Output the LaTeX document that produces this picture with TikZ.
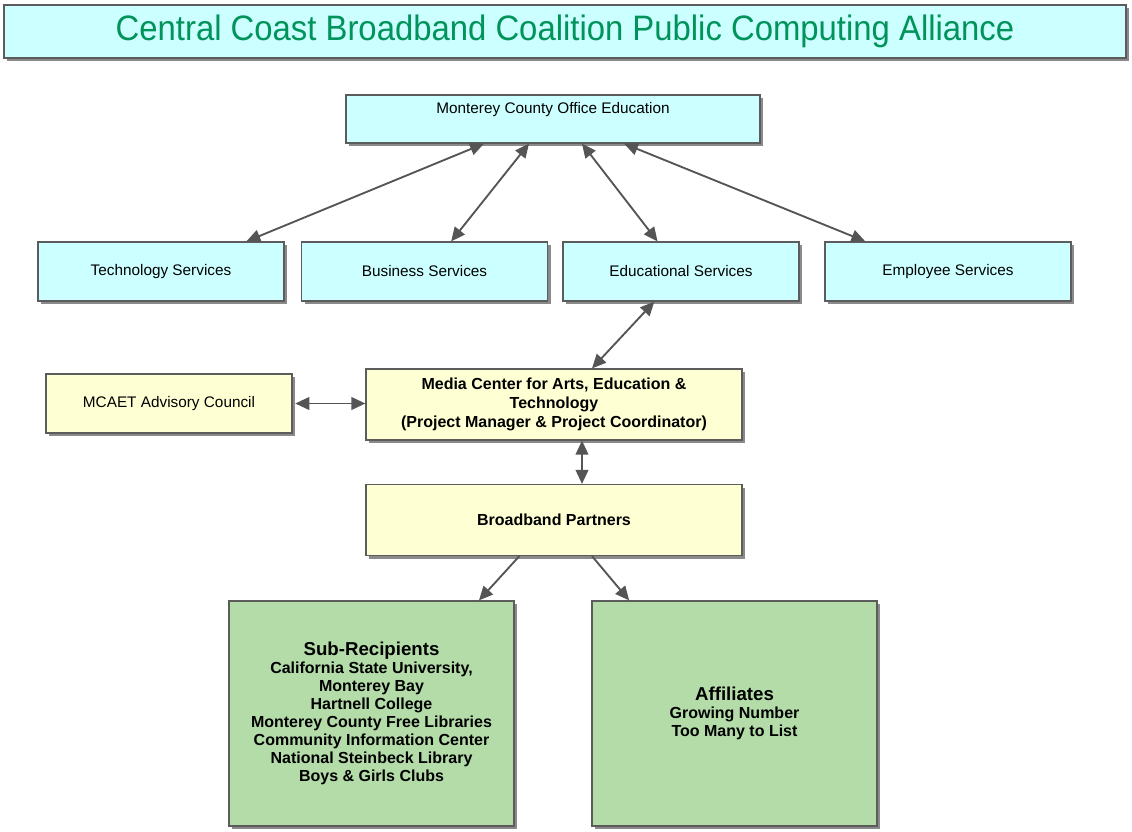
\documentclass[tikz,border=0pt]{standalone}
\usepackage{fontspec}
\setmainfont{Liberation Sans}
\newfontfamily\estrecha[FakeStretch=0.93]{Liberation Sans}
\usepackage{tikz}
\usetikzlibrary{arrows.meta, shadows}
\definecolor{fondoCian}{HTML}{CCFFFF}
\definecolor{fondoCrema}{HTML}{FFFFD4}
\definecolor{fondoVerde}{HTML}{B4DCA9}
\definecolor{bordeCaja}{HTML}{5C5C5C}
\definecolor{sombraCaja}{HTML}{8A8A8A}
\definecolor{verdeTitulo}{HTML}{00935A}
\definecolor{colorFlecha}{HTML}{555555}

\begin{document}
\begin{tikzpicture}[
        x=0.75pt, y=-0.75pt,
        caja/.style={draw=bordeCaja, line width=0.9pt, align=center, inner sep=2pt,
            drop shadow={shadow xshift=2.4pt, shadow yshift=-2.4pt, fill=sombraCaja, opacity=1}},
        cian/.style={caja, fill=fondoCian, minimum width=184.5pt, minimum height=44.25pt,
            font=\fontsize{11.5}{14}\selectfont},
        crema/.style={caja, fill=fondoCrema, minimum width=282pt, minimum height=53.25pt,
            font=\bfseries\fontsize{12}{14}\selectfont},
        verde/.style={caja, fill=fondoVerde, minimum width=213.75pt, minimum height=168.75pt,
            font=\bfseries\fontsize{12}{13.5}\selectfont},
        punta/.tip={Triangle[length=10.5pt, width=9.5pt]},
        rel/.style={punta-punta, colorFlecha, line width=1.4pt},
        ida/.style={-punta, colorFlecha, line width=1.4pt}
    ]
        \useasboundingbox (0,0) rectangle (1132,832);

        % encabezado
        \node[caja, fill=fondoCian, minimum width=841.5pt, minimum height=39.75pt,
            text=verdeTitulo, font=\estrecha\fontsize{26.5}{30}\selectfont] (titulo) at (565,31.5)
            {Central Coast Broadband Coalition Public Computing Alliance};

        % oficina del condado y servicios
        \node[cian, minimum width=310.5pt, minimum height=36pt, inner ysep=7pt,
            text height=7pt, text depth=15pt] (mcoe) at (553,119) {Monterey County Office Education};
        \node[cian] (tech) at (161,271.5) {Technology Services};
        \node[cian] (neg) at (424.5,271.5) {Business Services};
        \node[cian, minimum width=177pt] (edu) at (681,271.5) {Educational Services};
        \node[cian] (emp) at (948,271.5) {Employee Services};

        % centro de medios
        \node[cian, fill=fondoCrema, minimum height=44.25pt] (consejo) at (169,403.5) {MCAET Advisory Council};
        \node[crema] (media) at (554,404.5)
            {Media Center for Arts, Education \&\\Technology\\(Project Manager \& Project Coordinator)};
        \node[crema] (socios) at (554,520) {Broadband Partners};

        % socios
        \node[verde, text depth=3pt] (sub) at (371.5,713.5)
            {{\fontsize{14}{16}\selectfont Sub-Recipients}\\California State University,\\Monterey Bay\\
             Hartnell College\\Monterey County Free Libraries\\Community Information Center\\
             National Steinbeck Library\\Boys \& Girls Clubs};
        \node[verde, text depth=3pt] (afil) at (734.5,713.5)
            {{\fontsize{14}{16}\selectfont Affiliates}\\Growing Number\\Too Many to List};

        % conexiones
        \draw[rel] ([xshift=-51.75pt]mcoe.south) -- ([xshift=64pt]tech.north);
        \draw[rel] ([xshift=-18pt]mcoe.south) -- ([xshift=20pt]neg.north);
        \draw[rel] ([xshift=21.75pt]mcoe.south) -- ([xshift=-17.6pt]edu.north);
        \draw[rel] ([xshift=53.25pt]mcoe.south) -- ([xshift=-62pt]emp.north);
        \draw[rel] ([xshift=-20pt]edu.south) -- ([xshift=28.5pt]media.north);
        \draw[rel] ([xshift=2pt]consejo.east) -- (consejo.east -| media.west);
        \draw[rel] ([xshift=21pt]media.south) -- ([xshift=21pt]socios.north);
        \draw[ida] ([xshift=-26pt]socios.south) -- ([xshift=80.6pt]sub.north);
        \draw[ida] ([xshift=28.5pt]socios.south) -- ([xshift=-79pt]afil.north);
    \end{tikzpicture}
\end{document}
